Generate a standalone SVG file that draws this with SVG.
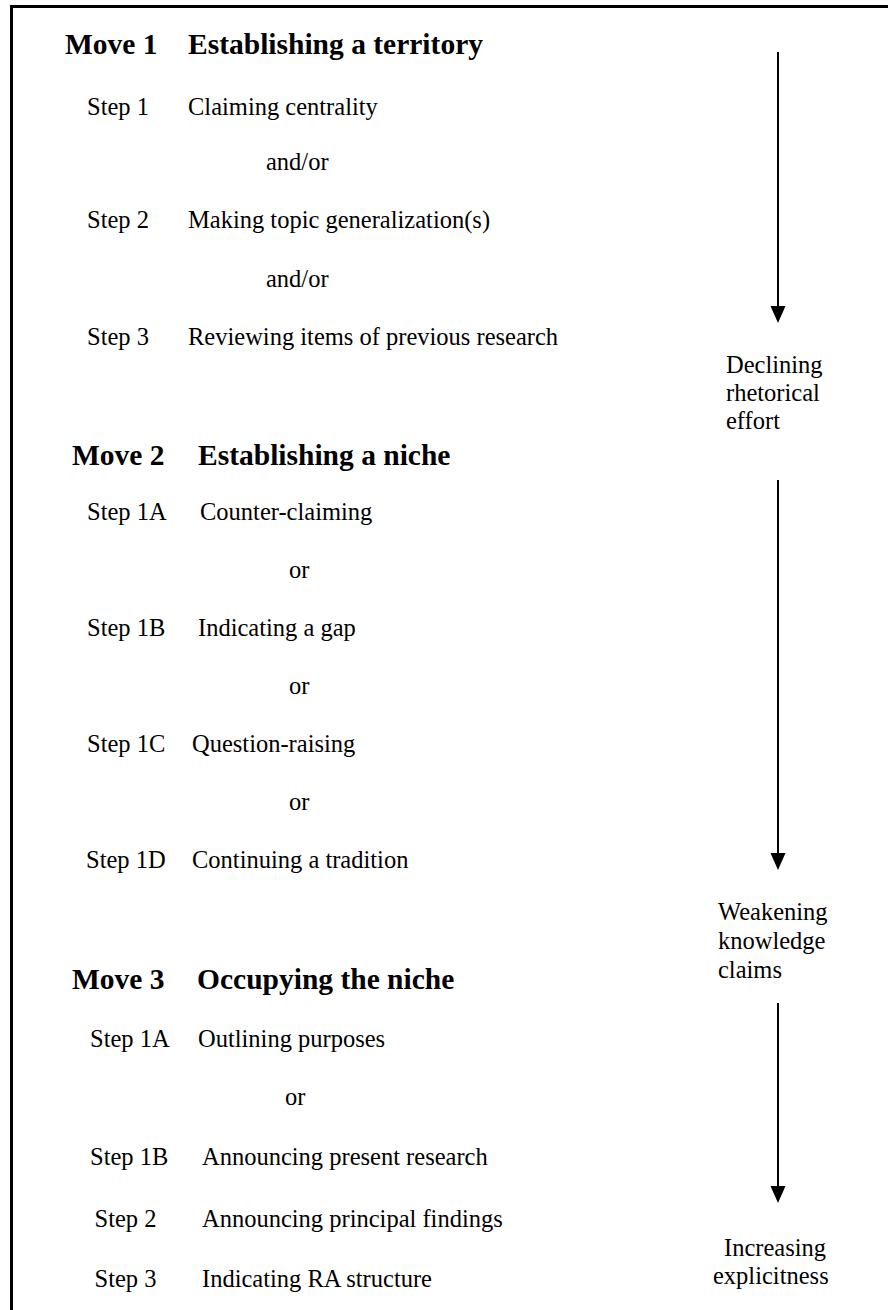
<svg xmlns="http://www.w3.org/2000/svg" width="888" height="1310" viewBox="0 0 888 1310">
<style>
text{font-family:"Liberation Serif","Times New Roman",serif;fill:#000}
.mv{font-size:29.5px;font-weight:bold}
.st{font-size:24.5px}
.ar{stroke:#000;stroke-width:2;fill:none}
.hd{fill:#000}
</style>
<rect width="888" height="1310" fill="#fff"/>
<path d="M11.5 1310 V6.5 H888" fill="none" stroke="#000" stroke-width="3"/>
<g id="move1">
<text class="mv" x="65" y="54">Move 1</text>
<text class="mv" x="188" y="54">Establishing a territory</text>
<text class="st" x="87" y="115">Step 1</text><text class="st" x="188" y="115">Claiming centrality</text>
<text class="st" x="266" y="170">and/or</text>
<text class="st" x="87" y="228">Step 2</text><text class="st" x="188" y="228">Making topic generalization(s)</text>
<text class="st" x="266" y="287">and/or</text>
<text class="st" x="87" y="345">Step 3</text><text class="st" x="188" y="345">Reviewing items of previous research</text>
</g>
<g id="move2">
<text class="mv" x="72" y="465">Move 2</text>
<text class="mv" x="198" y="465">Establishing a niche</text>
<text class="st" x="87" y="520">Step 1A</text><text class="st" x="200" y="520">Counter-claiming</text>
<text class="st" x="289" y="578">or</text>
<text class="st" x="87" y="636">Step 1B</text><text class="st" x="198" y="636">Indicating a gap</text>
<text class="st" x="289" y="694">or</text>
<text class="st" x="87" y="752">Step 1C</text><text class="st" x="192" y="752">Question-raising</text>
<text class="st" x="289" y="810">or</text>
<text class="st" x="86" y="868">Step 1D</text><text class="st" x="192" y="868">Continuing a tradition</text>
</g>
<g id="move3">
<text class="mv" x="72" y="989">Move 3</text>
<text class="mv" x="197" y="989">Occupying the niche</text>
<text class="st" x="90" y="1047">Step 1A</text><text class="st" x="198" y="1047">Outlining purposes</text>
<text class="st" x="285" y="1105">or</text>
<text class="st" x="90" y="1165">Step 1B</text><text class="st" x="202" y="1165">Announcing present research</text>
<text class="st" x="94.5" y="1227">Step 2</text><text class="st" x="202" y="1227">Announcing principal findings</text>
<text class="st" x="94.5" y="1287">Step 3</text><text class="st" x="202" y="1287">Indicating RA structure</text>
</g>
<g id="label1">
<text class="st" x="726" y="373">Declining</text>
<text class="st" x="726" y="401">rhetorical</text>
<text class="st" x="726" y="429">effort</text>
</g>
<g id="label2">
<text class="st" x="718" y="920">Weakening</text>
<text class="st" x="718" y="949">knowledge</text>
<text class="st" x="718" y="978">claims</text>
</g>
<g id="label3">
<text class="st" x="724" y="1256">Increasing</text>
<text class="st" x="713" y="1284">explicitness</text>
</g>
<g id="connectors">
<line class="ar" x1="778" y1="52" x2="778" y2="308"/>
<polygon class="hd" points="770.5,306 785.5,306 778,323"/>
<line class="ar" x1="778" y1="480" x2="778" y2="855"/>
<polygon class="hd" points="770.5,853 785.5,853 778,870"/>
<line class="ar" x1="778" y1="1003" x2="778" y2="1188"/>
<polygon class="hd" points="770.5,1186 785.5,1186 778,1203"/>
</g>
</svg>
